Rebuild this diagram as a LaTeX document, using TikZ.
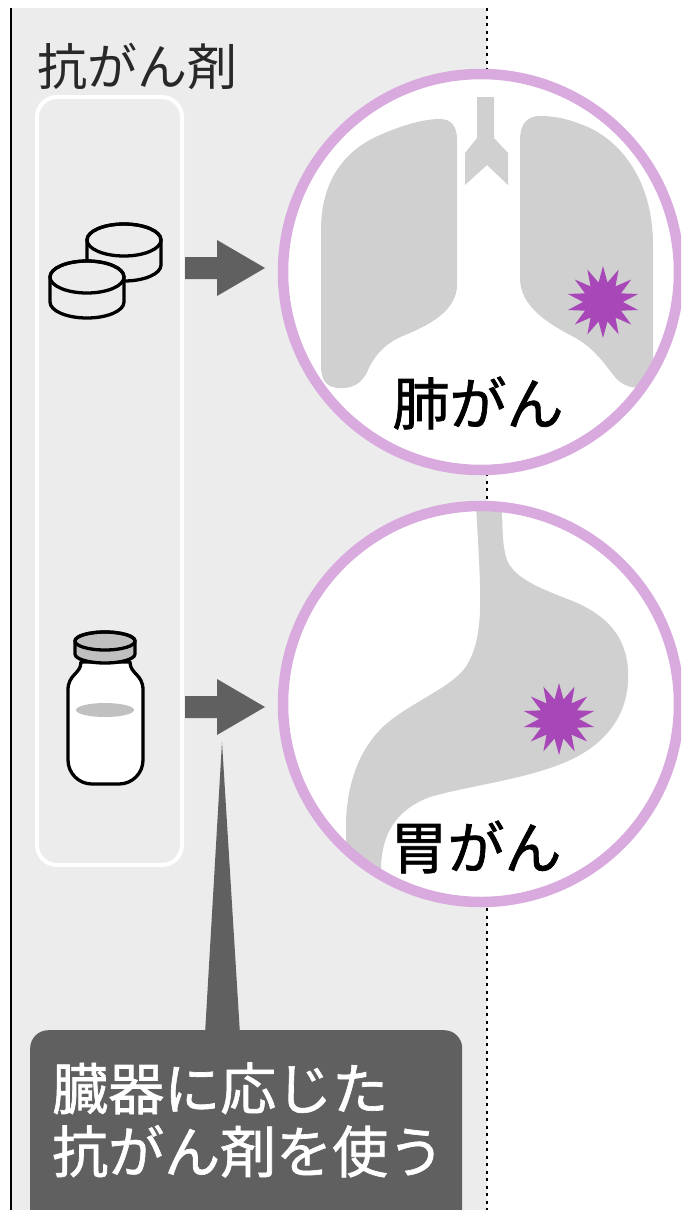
\documentclass[tikz,border=0pt]{standalone}
\usepackage{fontspec}
\newfontfamily\jp{Noto Sans CJK JP}
\newfontfamily\jpm[FakeBold=1.2]{Noto Sans CJK JP}
\usetikzlibrary{shapes.geometric}

\definecolor{panel}{RGB}{236,236,236}
\definecolor{ringc}{RGB}{216,170,222}
\definecolor{organ}{RGB}{208,208,208}
\definecolor{tumor}{RGB}{168,72,184}
\definecolor{dark}{RGB}{96,96,96}
\definecolor{capgray}{RGB}{192,192,192}
\definecolor{ink}{RGB}{40,40,40}

\tikzset{
  iconline/.style={draw=black, line width=3.3pt, line join=round},
  ringline/.style={draw=ringc, line width=10.5pt},
  disc/.style={circle, fill=white, minimum size=397pt, inner sep=0pt},
  tumorstar/.style={star, star points=14, star point ratio=1.8, fill=tumor,
    minimum size=72pt, inner sep=0pt},
  organlabel/.style={font=\jpm\fontsize{57}{62}\selectfont, text=black},
  blockarrow/.pic={
    \fill[dark] (0,-11) -- (32,-11) -- (32,-28) -- (80,0) -- (32,28)
      -- (32,11) -- (0,11) -- cycle;
  },
  pill/.pic={
    \draw[iconline, fill=panel] (-37,0) -- (-37,25)
      arc[start angle=180, end angle=360, x radius=37pt, y radius=16pt]
      -- (37,0)
      arc[start angle=0, end angle=180, x radius=37pt, y radius=16pt] -- cycle;
    \draw[iconline] (0,0) ellipse[x radius=37pt, y radius=16pt];
  }
}

\begin{document}
\begin{tikzpicture}[x=1pt, y=-1pt]
  \clip (0,0) rectangle (681,1210);
  \fill[white] (0,0) rectangle (681,1210);

  % grey column and its borders
  \fill[panel] (11,8) rectangle (487,1210);
  \draw[black, line width=1.6pt] (11,8) -- (11,1210);
  \draw[black, line width=2.4pt, dash pattern=on 3pt off 4.5pt] (487,8) -- (487,1210);

  % heading
  \node[anchor=west, font=\jp\fontsize{50}{54}\selectfont, text=ink, inner sep=0pt]
    (title) at (37,66) {抗がん剤};

  % frame around the two drug icons
  \node[draw=white, line width=4pt, rounded corners=20pt, minimum width=145pt,
    minimum height=768pt, anchor=north west, inner sep=0pt] (drugframe) at (35,95) {};

  % tablets
  \pic (tab1) at (124,240) {pill};
  \pic (tab2) at (87,277) {pill};

  % vial
  \draw[iconline, fill=white] (81,662) .. controls (81,674) and (68,674) .. (68,690)
    -- (68,760) arc[start angle=180, end angle=270, radius=24pt] -- (119,784)
    arc[start angle=270, end angle=360, radius=24pt] -- (143,690)
    .. controls (143,674) and (130,674) .. (130,662) -- cycle;
  \fill[capgray] (105,710) ellipse[x radius=29pt, y radius=7pt];
  \draw[iconline, fill=capgray] (75,641) -- (75,654)
    arc[start angle=180, end angle=360, x radius=30pt, y radius=9pt]
    -- (135,641) arc[start angle=0, end angle=180, x radius=30pt, y radius=9pt] -- cycle;
  \draw[iconline] (105,641) ellipse[x radius=30pt, y radius=9pt];

  % arrows towards the organs
  \pic (arrow1) at (185,268) {blockarrow};
  \pic (arrow2) at (185,707) {blockarrow};

  % lung disc
  \node[disc] (lungdisc) at (481,272) {};
  \begin{scope}
    \clip (lungdisc.center) circle[radius=195pt];
    \fill[organ] (440,119) .. controls (452,119) and (457,127) .. (457,140)
      -- (457,285)
      .. controls (457,310) and (430,325) .. (405,335)
      .. controls (385,343) and (375,355) .. (368,370)
      .. controls (362,385) and (350,389) .. (338,388)
      .. controls (326,387) and (321,380) .. (321,365)
      -- (321,230)
      .. controls (321,180) and (345,150) .. (380,135)
      .. controls (405,124) and (425,119) .. (440,119) -- cycle;
    \fill[organ] (540,116) .. controls (527,116) and (520,124) .. (520,140)
      -- (520,278)
      .. controls (520,305) and (545,322) .. (572,336)
      .. controls (595,348) and (605,365) .. (615,377)
      .. controls (625,389) and (640,390) .. (648,384)
      .. controls (653,380) and (653,372) .. (653,360)
      -- (653,245)
      .. controls (653,185) and (625,145) .. (590,128)
      .. controls (570,119) and (555,116) .. (540,116) -- cycle;
    \fill[organ] (477,97) -- (494,97) -- (494,138) -- (508,153) -- (508,185)
      -- (487,165) -- (465,185) -- (465,153) -- (477,138) -- cycle;
  \end{scope}
  \node[tumorstar] (lungtumor) at (603,302) {};
  \draw[ringline] (lungdisc.center) circle[radius=198pt];
  \node[organlabel] (lunglabel) at (478,403) {肺がん};

  % stomach disc
  \node[disc] (stomachdisc) at (481,704) {};
  \begin{scope}
    \clip (stomachdisc.center) circle[radius=195pt];
    \fill[organ] (474,470) -- (478,540)
      .. controls (481,600) and (484,640) .. (465,668)
      .. controls (450,688) and (410,703) .. (385,725)
      .. controls (360,748) and (348,780) .. (346,820)
      -- (346,920) -- (382,920) -- (381,867)
      .. controls (382,835) and (395,810) .. (430,797)
      .. controls (470,785) and (540,778) .. (580,755)
      .. controls (615,735) and (630,705) .. (628,670)
      .. controls (626,635) and (605,615) .. (575,602)
      .. controls (545,590) and (515,580) .. (507,560)
      .. controls (502,545) and (502,530) .. (502,470) -- cycle;
  \end{scope}
  \node[tumorstar] (stomachtumor) at (559,719) {};
  \draw[ringline] (stomachdisc.center) circle[radius=198pt];
  \node[organlabel] (stomachlabel) at (476,847) {胃がん};

  % callout
  \node[fill=dark, rounded corners=18pt, minimum width=432pt, minimum height=220pt,
    anchor=north west, inner sep=0pt] (callout) at (30,1030) {};
  \coordinate (tip) at (222,742);
  \fill[dark] (tip) -- (240,1034) -- (205,1034) -- cycle;
  \node[anchor=west, align=left, text=white, inner sep=0pt,
    font=\jpm\fontsize{56}{63}\selectfont] (message) at (52,1120)
    {臓器に応じた\\抗がん剤を使う};
\end{tikzpicture}
\end{document}
